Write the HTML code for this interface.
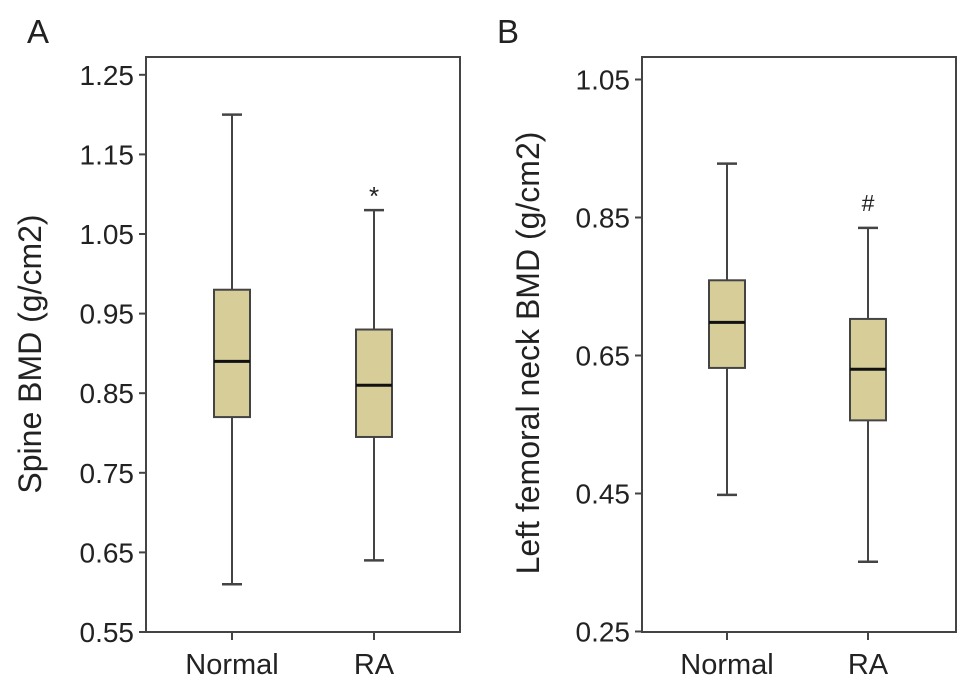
<!DOCTYPE html>
<html><head><meta charset="utf-8"><style>
body{margin:0;background:#fff;}
svg{display:block;font-family:"Liberation Sans",Arial,sans-serif;}
</style></head><body>
<svg id="chart" width="969" height="686" viewBox="0 0 969 686"></svg>
<script>
const categories = ["Normal", "RA"];
const spineWhiskerLow = [0.61, 0.64];
const spineQ1 = [0.82, 0.795];
const spineMedian = [0.89, 0.86];
const spineQ3 = [0.98, 0.93];
const spineWhiskerHigh = [1.20, 1.08];
const spineTicks = [0.55, 0.65, 0.75, 0.85, 0.95, 1.05, 1.15, 1.25];
const neckWhiskerLow = [0.448, 0.351];
const neckQ1 = [0.632, 0.556];
const neckMedian = [0.698, 0.63];
const neckQ3 = [0.759, 0.703];
const neckWhiskerHigh = [0.928, 0.835];
const neckTicks = [0.25, 0.45, 0.65, 0.85, 1.05];
const spineMarks = ["", "*"];
const neckMarks = ["", "#"];

const NS = "http://www.w3.org/2000/svg";
const svg = document.getElementById("chart");
function el(tag, attrs, parent){
  const e = document.createElementNS(NS, tag);
  for (const k in attrs) e.setAttribute(k, attrs[k]);
  (parent || svg).appendChild(e);
  return e;
}
function panel(opt){
  const g = el("g", {});
  
  
  const y = v => opt.y0 - (v - opt.vmin) * opt.scale;
  const x = i => opt.left + opt.offsets[i];
  const frame = el("rect", {x:opt.left, y:57, width:opt.right-opt.left, height:575, fill:"none", stroke:"#444", "stroke-width":2}, g);
  
  
  opt.ticks.forEach(t => {
    const tk = el("line", {x1:opt.left-7, x2:opt.left, y1:y(t), y2:y(t), stroke:"#444", "stroke-width":2}, g);
    
    
    const tl = el("text", {x:opt.left-12, y:y(t)+10, "text-anchor":"end", "font-size":28, fill:"#222"}, g);
    tl.textContent = t.toFixed(2);
    
    
  });
  categories.forEach((c, i) => {
    const cx = x(i);
    const tk = el("line", {x1:cx, x2:cx, y1:632, y2:640, stroke:"#444", "stroke-width":2}, g);
    
    
    const cl = el("text", {x:cx, y:674, "text-anchor":"middle", "font-size":29, fill:"#222"}, g);
    cl.textContent = c;
    
    
    const w = el("line", {x1:cx, x2:cx, y1:y(opt.hi[i]), y2:y(opt.lo[i]), stroke:"#444", "stroke-width":2}, g);
    
    
    [opt.hi[i], opt.lo[i]].forEach(v => {
      const cap = el("line", {x1:cx-10, x2:cx+10, y1:y(v), y2:y(v), stroke:"#444", "stroke-width":2.5}, g);
      
      
    });
    const b = el("rect", {x:cx-18, y:y(opt.q3[i]), width:36, height:y(opt.q1[i])-y(opt.q3[i]), fill:"#d6cd98", stroke:"#444", "stroke-width":2}, g);
    
    
    const m = el("line", {x1:cx-18, x2:cx+18, y1:y(opt.med[i]), y2:y(opt.med[i]), stroke:"#111", "stroke-width":3}, g);
    
    
    if (opt.marks[i]) {
      const s = el("text", {x:cx, y:y(opt.hi[i])-(opt.marks[i]==="*"?5:17), "text-anchor":"middle", "font-size":opt.marks[i]==="*"?26:23, fill:"#222"}, g);
      s.textContent = opt.marks[i];
      
      
    }
  });
  const t = el("text", {x:0, y:0, transform:`translate(${opt.titleX},${opt.titleY}) rotate(-90)`, "text-anchor":"middle", "font-size":32, fill:"#222"}, g);
  t.textContent = opt.title;
  
  
  const p = el("text", {x:opt.letterX, y:43, "font-size":33, fill:"#222"}, g);
  p.textContent = opt.letter;
  
  
}
panel({name:"panel-a", left:146, right:460, offsets:[86,228], y0:632, vmin:0.55, scale:796,
  ticks:spineTicks, lo:spineWhiskerLow, q1:spineQ1, med:spineMedian, q3:spineQ3, hi:spineWhiskerHigh,
  marks:spineMarks, title:"Spine BMD (g/cm2)", titleX:41, titleY:354, letter:"A", letterX:27});
panel({name:"panel-b", left:642, right:956, offsets:[85,226], y0:631.5, vmin:0.25, scale:690,
  ticks:neckTicks, lo:neckWhiskerLow, q1:neckQ1, med:neckMedian, q3:neckQ3, hi:neckWhiskerHigh,
  marks:neckMarks, title:"Left femoral neck BMD (g/cm2)", titleX:539, titleY:353, letter:"B", letterX:497});
</script>
</body></html>
